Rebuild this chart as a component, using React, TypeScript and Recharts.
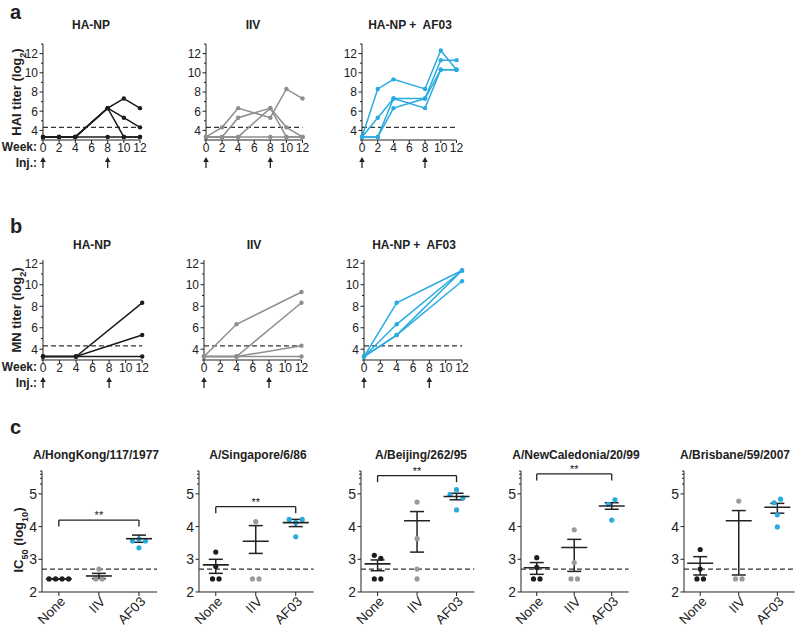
import React from 'react';
import {
  LineChart, Line, XAxis, YAxis, ReferenceLine, ReferenceDot,
  ScatterChart, Scatter, ErrorBar,
} from 'recharts';

const FONT = '"Liberation Sans", Arial, Helvetica, sans-serif';
const INK = '#222222';
const BLACK = '#1c1c1c';
const GRAY = '#8e8e8e';
const DOTGRAY = '#9a9a9a';
const BLUE = '#29abe2';

// ---------- Panel a: HAI titer (log2) ----------
const weeksHai = [0, 2, 4, 8, 10, 12];
const haiHaNp = [
  [3.32, 3.32, 3.32, 6.32, 7.32, 6.32],
  [3.32, 3.32, 3.32, 6.32, 5.32, 4.32],
  [3.32, 3.32, 3.32, 6.32, 3.32, 3.32],
  [3.32, 3.32, 3.32, 3.32, 3.32, 3.32],
];
const haiIiv = [
  [3.32, 4.32, 6.32, 5.32, 8.32, 7.32],
  [3.32, 3.32, 5.32, 6.32, 4.32, 3.32],
  [3.32, 3.32, 3.32, 6.32, 3.32, 3.32],
  [3.32, 3.32, 3.32, 3.32, 3.32, 3.32],
];
const haiAf03 = [
  [3.32, 8.32, 9.32, 8.32, 12.32, 10.32],
  [3.32, 5.32, 7.32, 7.32, 11.32, 11.32],
  [3.32, 3.32, 7.32, 6.32, 10.32, 10.32],
  [3.32, 3.32, 6.32, 7.32, 10.32, 10.32],
];

// ---------- Panel b: MN titer (log2) ----------
const weeksMn = [0, 4, 12];
const mnHaNp = [
  [3.32, 3.32, 8.32],
  [3.32, 3.32, 5.32],
  [3.32, 3.32, 3.32],
];
const mnIiv = [
  [3.32, 6.32, 9.32],
  [3.32, 3.32, 8.32],
  [3.32, 3.32, 4.32],
  [3.32, 3.32, 3.32],
];
const mnAf03 = [
  [3.32, 8.32, 11.32],
  [3.32, 6.32, 11.32],
  [3.32, 5.32, 11.32],
  [3.32, 5.32, 10.32],
];

const weekTicks = [0, 2, 4, 6, 8, 10, 12];
const injectionWeeks = [0, 8];
const titerCutoff = 4.32;

// ---------- Panel c: IC50 (log10) ----------
const groupNames = ['None', 'IIV', 'AF03'];
const icCutoff = 2.7;

const hkPoints = [[2.4, 2.4, 2.4, 2.4], [2.4, 2.7, 2.4], [3.56, 3.62, 3.56, 3.35]];
const hkMeans = [2.4, 2.49, 3.63];
const hkSem = [[2.4, 2.4], [2.41, 2.57], [3.52, 3.74]];

const sgPoints = [[3.22, 2.78, 2.4, 2.4], [2.4, 4.15, 2.4], [4.22, 4.12, 4.22, 3.69]];
const sgMeans = [2.83, 3.55, 4.12];
const sgSem = [[2.57, 3.0], [3.18, 4.03], [4.0, 4.22]];

const bjPoints = [[3.12, 3.03, 2.4, 2.4], [4.75, 3.63, 2.7, 2.4], [4.98, 5.13, 4.88, 4.51]];
const bjMeans = [2.86, 4.18, 4.92];
const bjSem = [[2.65, 2.98], [3.22, 4.46], [4.82, 5.02]];

const ncPoints = [[3.05, 2.75, 2.4, 2.4], [3.9, 2.9, 2.4, 2.4], [4.68, 4.82, 4.2]];
const ncMeans = [2.74, 3.36, 4.63];
const ncSem = [[2.54, 2.9], [2.63, 3.61], [4.53, 4.73]];

const bbPoints = [[3.3, 2.7, 2.4, 2.4], [4.78, 2.4, 2.4], [4.73, 4.84, 4.36, 3.99]];
const bbMeans = [2.88, 4.18, 4.59];
const bbSem = [[2.52, 3.08], [2.52, 4.49], [4.41, 4.71]];

const brackets = [4.2, 4.61, 5.56, 5.61, null];

// ---------- helpers ----------
function YTick(props: any) {
  const { y, payload, axisX, isMajor, fontSize, gap } = props;
  const v = payload.value;
  const major = isMajor(v);
  return (
    <g>
      <line x1={axisX - (major ? 3.5 : 2)} x2={axisX} y1={y} y2={y} stroke={INK} strokeWidth={1} />
      {major && (
        <text x={axisX - gap} y={y} dy="0.36em" textAnchor="end" fontSize={fontSize} fill={INK} fontFamily={FONT}>
          {Math.round(v)}
        </text>
      )}
    </g>
  );
}

function Arrow({ cx, cy }: any) {
  if (cx == null || cy == null) return null;
  const t = cy + 17;
  const b = cy + 28;
  return (
    <g>
      <line x1={cx} x2={cx} y1={t + 3} y2={b} stroke={INK} strokeWidth={1.3} />
      <path d={`M${cx - 2.8},${t + 5} L${cx},${t} L${cx + 2.8},${t + 5} Z`} fill={INK} />
    </g>
  );
}

function LinePanel({ axisX, endX, top, bottom, yMax, weeks, series, color }: any) {
  const ML = 30, MR = 8, MT = 8, XH = 34;
  const width = endX - axisX + ML + MR;
  const height = bottom - top + MT + XH;
  const rows = weeks.map((w: number, i: number) => {
    const r: any = { week: w };
    series.forEach((s: number[], k: number) => { r['s' + k] = s[i]; });
    return r;
  });
  const yTicks: number[] = [];
  for (let v = 3; v <= yMax + 1e-6; v++) yTicks.push(v);
  return (
    <div style={{ position: 'absolute', left: axisX - ML, top: top - MT }}>
      <LineChart width={width} height={height} data={rows} margin={{ top: MT, right: MR, bottom: 0, left: 0 }}>
        <XAxis
          dataKey="week" type="number" domain={[0, 12]} ticks={weekTicks} interval={0}
          height={XH} tickSize={3} tickMargin={0} stroke={INK}
          tick={{ fontSize: 12, fill: INK, fontFamily: FONT }}
        />
        <YAxis
          type="number" domain={[3, yMax]} ticks={yTicks} interval={0} width={ML}
          tickLine={false} stroke={INK} allowDataOverflow
          tick={(p: any) => <YTick {...p} axisX={ML} isMajor={(v: number) => v % 2 === 0} fontSize={12} gap={5} />}
        />
        <ReferenceLine y={titerCutoff} stroke="#333" strokeDasharray="5 3" strokeWidth={1.2} />
        {series.map((_: any, k: number) => (
          <Line
            key={k} dataKey={'s' + k} type="linear" stroke={color} strokeWidth={1.5}
            dot={{ r: 2.2, fill: color, stroke: color, strokeWidth: 0 }}
            activeDot={false} isAnimationActive={false}
          />
        ))}
        {injectionWeeks.map((w) => (
          <ReferenceDot key={w} x={w} y={3} r={0} ifOverflow="visible" shape={(p: any) => <Arrow cx={p.cx} cy={p.cy} />} />
        ))}
      </LineChart>
    </div>
  );
}

function swarm(vals: number[], gi: number, pxX: number, pxY: number) {
  const idx = vals.map((_, i) => i).sort((a, b) => vals[a] - vals[b]);
  const clusters: number[][] = [];
  let cur: number[] = [];
  idx.forEach((i, k) => {
    if (k > 0 && (vals[i] - vals[idx[k - 1]]) * pxY >= 5.5) {
      clusters.push(cur);
      cur = [];
    }
    cur.push(i);
  });
  if (cur.length) clusters.push(cur);
  const step = 6.5 / pxX;
  const out: any[] = [];
  clusters.forEach((c) => {
    const ord = [...c].sort((a, b) => a - b);
    ord.forEach((i, j) => out.push({ x: gi + (j - (ord.length - 1) / 2) * step, y: vals[i] }));
  });
  return out;
}

const groupColors = [BLACK, DOTGRAY, BLUE];

function CatTick({ x, y, payload }: any) {
  const name = groupNames[payload.value];
  return (
    <text
      x={x + 3} y={y} transform={`rotate(-45 ${x + 3} ${y})`} textAnchor="end" dy="0.45em"
      fontSize={13.5} fill={INK} fontFamily={FONT}
    >
      {name}
    </text>
  );
}

function IcPanel({ axisX, endX, points, means, sems, bracket }: any) {
  const ML = 34, MR = 4, MT = 11, XH = 36, TOP = 460, BOTTOM = 592;
  const yDomain = [2, 5.7];
  const xDomain = [-0.42, 2.45];
  const plotW = endX - axisX;
  const pxX = plotW / (xDomain[1] - xDomain[0]);
  const pxY = (BOTTOM - (TOP + MT)) / (yDomain[1] - yDomain[0]);
  const width = plotW + ML + MR;
  const height = BOTTOM - TOP + XH;
  const dots = points.map((v: number[], gi: number) => swarm(v, gi, pxX, pxY));
  const meanData = means.map((m: number, gi: number) => ({ x: gi, y: m, err: [m - sems[gi][0], sems[gi][1] - m] }));
  const yTicks = [2, 3, 4, 5, 5.301, 5.477, 5.602, 5.699];
  return (
    <div style={{ position: 'absolute', left: axisX - ML, top: TOP }}>
      <ScatterChart width={width} height={height} margin={{ top: MT, right: MR, bottom: 0, left: 0 }}>
        <XAxis
          dataKey="x" type="number" domain={xDomain} ticks={[0, 1, 2]} interval={0} allowDataOverflow
          height={XH} tickSize={4} tickMargin={2} stroke={INK} tick={<CatTick />}
        />
        <YAxis
          dataKey="y" type="number" domain={yDomain} ticks={yTicks} interval={0} width={ML}
          tickLine={false} stroke={INK} allowDataOverflow
          tick={(p: any) => <YTick {...p} axisX={ML} isMajor={(v: number) => Math.abs(v - Math.round(v)) < 1e-6} fontSize={14} gap={5} />}
        />
        <ReferenceLine y={icCutoff} stroke="#333" strokeDasharray="5 3" strokeWidth={1.2} />
        {bracket != null && (
          <ReferenceLine segment={[{ x: 0, y: bracket }, { x: 2, y: bracket }]} stroke={INK} strokeWidth={1.3} ifOverflow="visible" />
        )}
        {bracket != null && (
          <ReferenceLine segment={[{ x: 0, y: bracket }, { x: 0, y: bracket - 0.2 }]} stroke={INK} strokeWidth={1.3} ifOverflow="visible" />
        )}
        {bracket != null && (
          <ReferenceLine segment={[{ x: 2, y: bracket }, { x: 2, y: bracket - 0.2 }]} stroke={INK} strokeWidth={1.3} ifOverflow="visible" />
        )}
        {bracket != null && (
          <ReferenceDot
            x={1} y={bracket} r={0} ifOverflow="visible"
            shape={(p: any) => (
              <text x={p.cx} y={p.cy - 1} textAnchor="middle" fontSize={11} fill={INK} fontFamily={FONT}>**</text>
            )}
          />
        )}
        {dots.map((d: any[], gi: number) => (
          <Scatter
            key={gi} data={d} isAnimationActive={false}
            shape={(p: any) => <circle cx={p.cx} cy={p.cy} r={2.6} fill={groupColors[gi]} />}
          />
        ))}
        <Scatter
          data={meanData} isAnimationActive={false}
          shape={(p: any) => <line x1={p.cx - 13} x2={p.cx + 13} y1={p.cy} y2={p.cy} stroke={INK} strokeWidth={1.6} />}
        >
          <ErrorBar dataKey="err" direction="y" width={7} stroke={INK} strokeWidth={1.5} />
        </Scatter>
      </ScatterChart>
    </div>
  );
}

function Sub({ children }: any) {
  return <tspan baselineShift="sub" fontSize="70%">{children}</tspan>;
}

export default function App() {
  const aTop = 44, aBottom = 140, bTop = 260, bBottom = 360;
  const tStyle: any = { fontFamily: FONT, fill: INK };
  return (
    <div style={{ position: 'absolute', left: 0, top: 0, width: 800, height: 628, background: '#fff', overflow: 'hidden' }}>
      <LinePanel axisX={42.5} endX={139.5} top={aTop} bottom={aBottom} yMax={13} weeks={weeksHai} series={haiHaNp} color={BLACK} />
      <LinePanel axisX={205.5} endX={302} top={aTop} bottom={aBottom} yMax={13} weeks={weeksHai} series={haiIiv} color={GRAY} />
      <LinePanel axisX={361.5} endX={456} top={aTop} bottom={aBottom} yMax={13} weeks={weeksHai} series={haiAf03} color={BLUE} />

      <LinePanel axisX={43.3} endX={142.5} top={bTop} bottom={bBottom} yMax={12.3} weeks={weeksMn} series={mnHaNp} color={BLACK} />
      <LinePanel axisX={203.5} endX={301} top={bTop} bottom={bBottom} yMax={12.3} weeks={weeksMn} series={mnIiv} color={GRAY} />
      <LinePanel axisX={364} endX={462} top={bTop} bottom={bBottom} yMax={12.3} weeks={weeksMn} series={mnAf03} color={BLUE} />

      <IcPanel axisX={41.7} endX={156.7} points={hkPoints} means={hkMeans} sems={hkSem} bracket={brackets[0]} />
      <IcPanel axisX={199.3} endX={314} points={sgPoints} means={sgMeans} sems={sgSem} bracket={brackets[1]} />
      <IcPanel axisX={360.7} endX={474} points={bjPoints} means={bjMeans} sems={bjSem} bracket={brackets[2]} />
      <IcPanel axisX={520.7} endX={628.3} points={ncPoints} means={ncMeans} sems={ncSem} bracket={brackets[3]} />
      <IcPanel axisX={684.3} endX={795} points={bbPoints} means={bbMeans} sems={bbSem} bracket={brackets[4]} />

      <svg width={800} height={628} style={{ position: 'absolute', left: 0, top: 0, pointerEvents: 'none' }}>
        <g {...tStyle} fontWeight="bold">
          <text x={10} y={19} fontSize={20}>a</text>
          <text x={10} y={233} fontSize={20}>b</text>
          <text x={10} y={434} fontSize={20}>c</text>

          <text x={91} y={25} fontSize={12} textAnchor="middle" dominantBaseline="central">HA-NP</text>
          <text x={253} y={25} fontSize={12} textAnchor="middle" dominantBaseline="central">IIV</text>
          <text x={410} y={25} fontSize={12} textAnchor="middle" dominantBaseline="central" style={{ whiteSpace: 'pre' }}>{'HA-NP +  AF03'}</text>

          <text x={92} y={245} fontSize={12} textAnchor="middle" dominantBaseline="central">HA-NP</text>
          <text x={254} y={245} fontSize={12} textAnchor="middle" dominantBaseline="central">IIV</text>
          <text x={414} y={245} fontSize={12} textAnchor="middle" dominantBaseline="central" style={{ whiteSpace: 'pre' }}>{'HA-NP +  AF03'}</text>

          <text x={37} y={aBottom + 7} fontSize={12} textAnchor="end" dominantBaseline="central">Week:</text>
          <text x={37} y={aBottom + 23} fontSize={12} textAnchor="end" dominantBaseline="central">Inj.:</text>
          <text x={37} y={bBottom + 7} fontSize={12} textAnchor="end" dominantBaseline="central">Week:</text>
          <text x={37} y={bBottom + 23} fontSize={12} textAnchor="end" dominantBaseline="central">Inj.:</text>

          <text transform="translate(21,92) rotate(-90)" fontSize={13} textAnchor="middle">HAI titer (log<Sub>2</Sub>)</text>
          <text transform="translate(21,310) rotate(-90)" fontSize={13} textAnchor="middle">MN titer (log<Sub>2</Sub>)</text>
          <text transform="translate(23,540) rotate(-90)" fontSize={13} textAnchor="middle">IC<Sub>50</Sub> (log<Sub>10</Sub>)</text>

          <text x={96} y={455} fontSize={12} textAnchor="middle" dominantBaseline="central">A/HongKong/117/1977</text>
          <text x={258} y={455} fontSize={12} textAnchor="middle" dominantBaseline="central">A/Singapore/6/86</text>
          <text x={421} y={455} fontSize={12} textAnchor="middle" dominantBaseline="central">A/Beijing/262/95</text>
          <text x={576} y={455} fontSize={12} textAnchor="middle" dominantBaseline="central">A/NewCaledonia/20/99</text>
          <text x={735} y={455} fontSize={12} textAnchor="middle" dominantBaseline="central">A/Brisbane/59/2007</text>
        </g>
      </svg>
    </div>
  );
}
